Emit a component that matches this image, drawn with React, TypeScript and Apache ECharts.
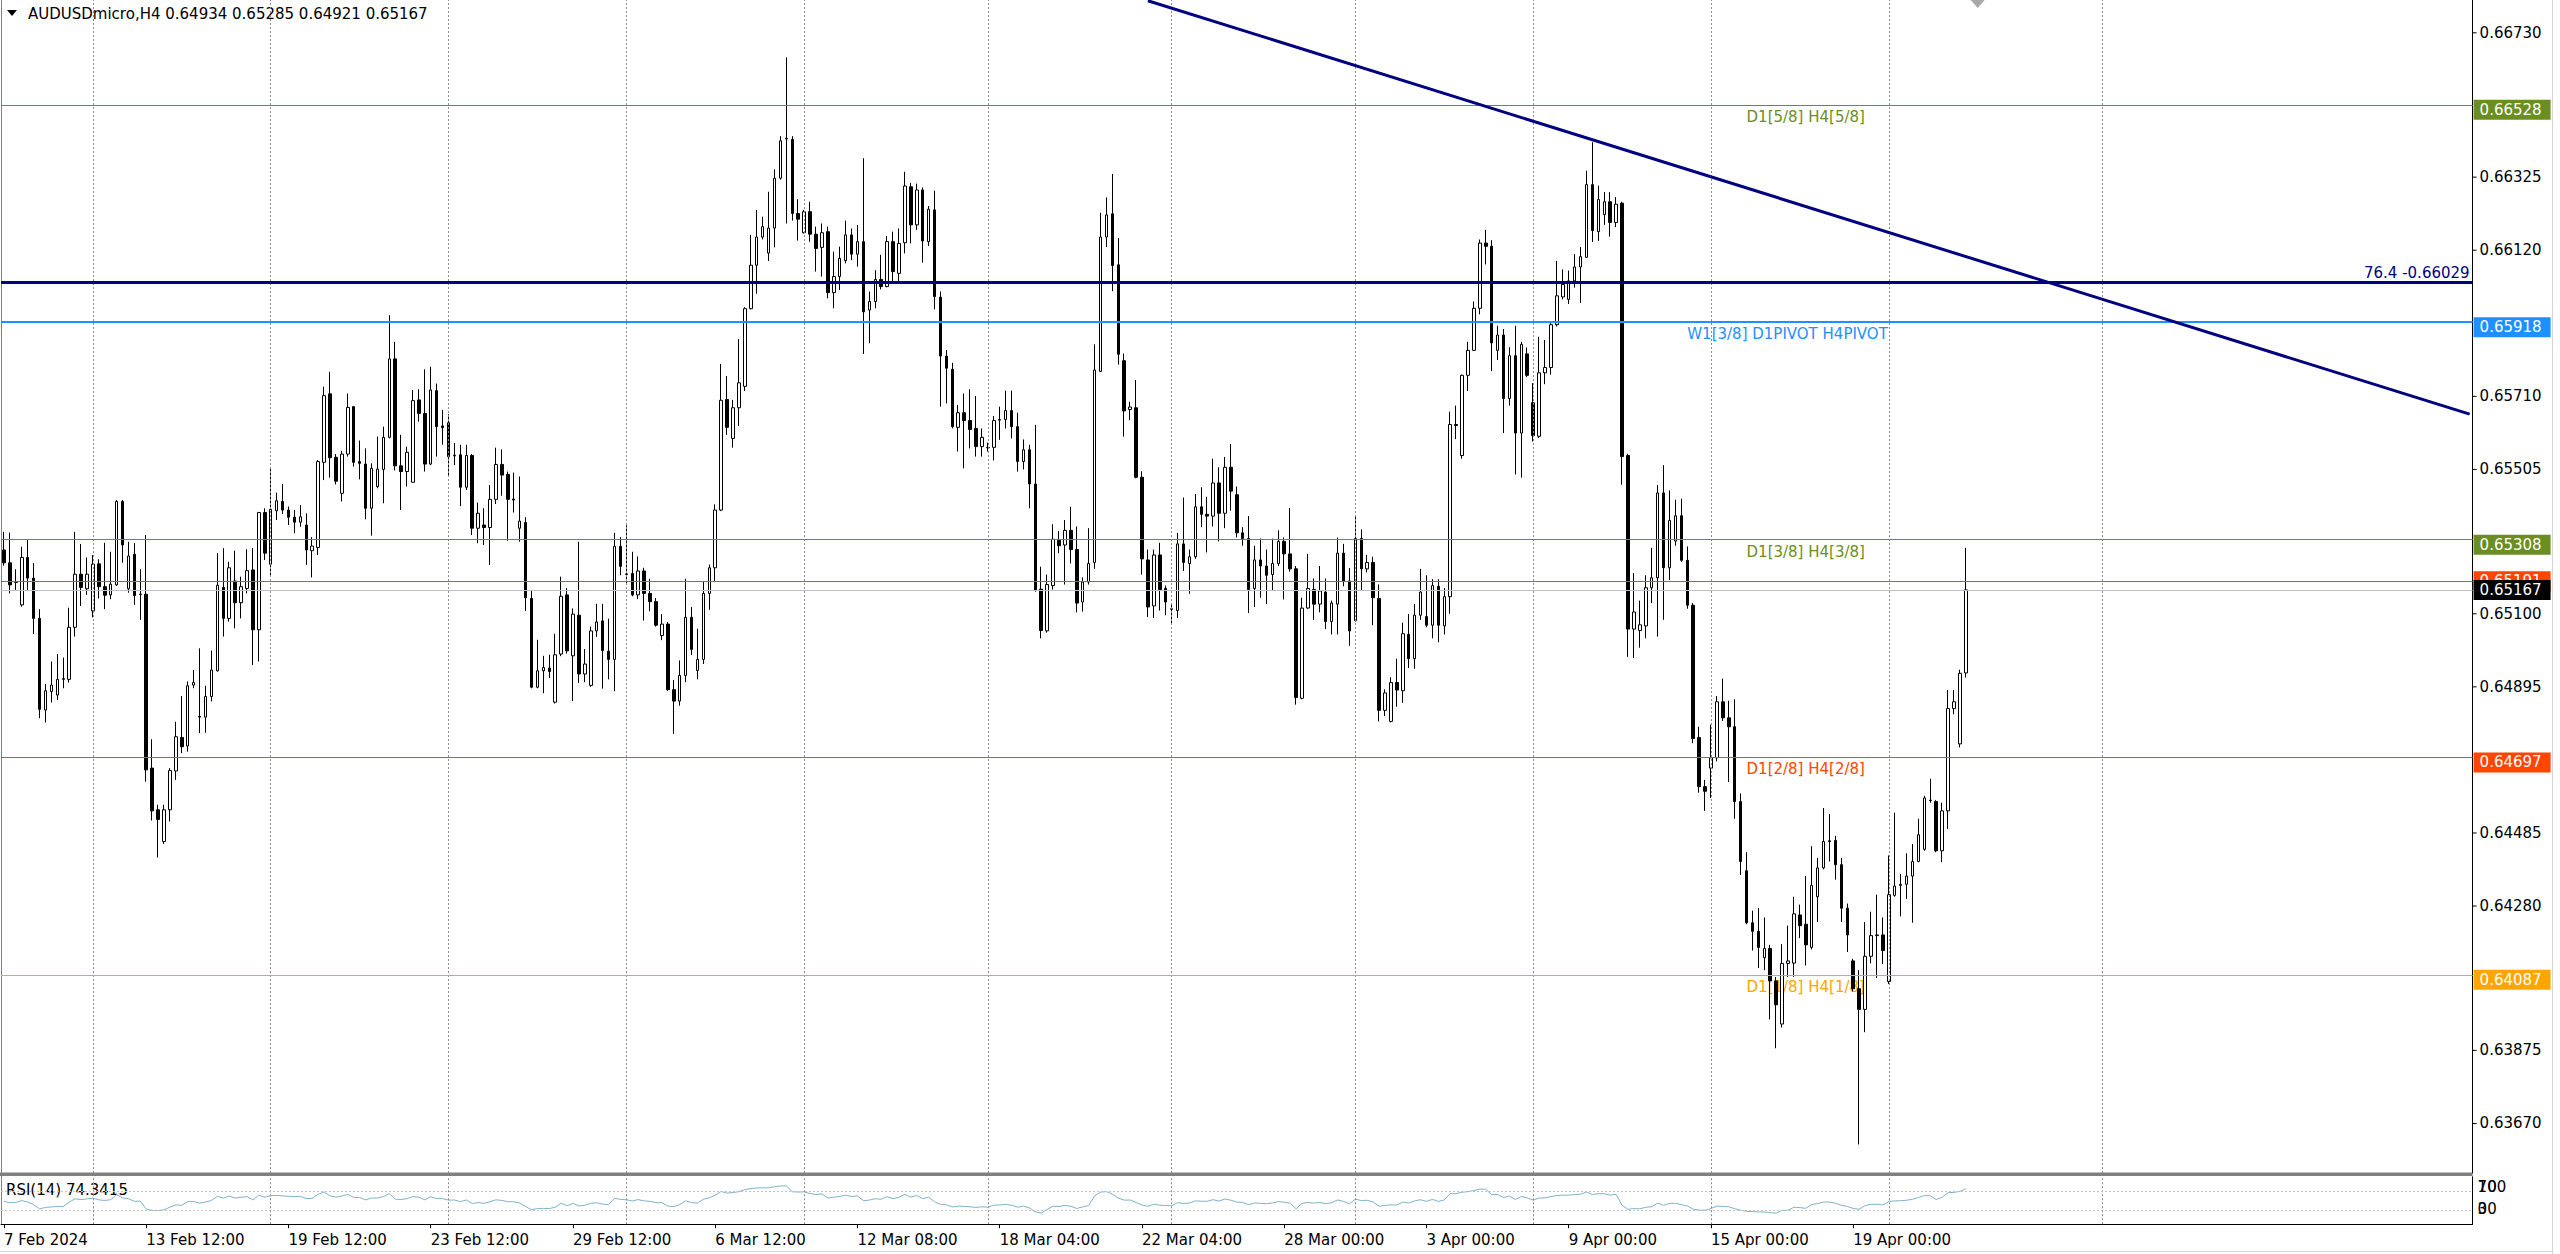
import React, { useEffect, useRef } from "react";
import * as echarts from "echarts";

// ---------- DATA ----------
const opens = [
0.65279,0.65243,0.65188,0.65125,0.65258,0.65200,0.65087,0.64830,0.64882,0.64872,
0.64916,0.64916,0.65062,0.65211,0.65170,0.65108,0.65240,0.65176,0.65153,0.65181,
0.65415,0.65170,0.65267,0.65155,0.65155,0.64667,0.64550,0.64461,0.64550,0.64659,
0.64753,0.64729,0.64900,0.64810,0.64810,0.64868,0.64940,0.65174,0.65087,0.65192,
0.65131,0.65171,0.65223,0.65055,0.65384,0.65239,0.65389,0.65415,0.65391,0.65371,
0.65357,0.65349,0.65277,0.65286,0.65525,0.65717,0.65539,0.65438,0.65548,0.65681,
0.65527,0.65520,0.65396,0.65457,0.65505,0.65595,0.65815,0.65515,0.65499,0.65469,
0.65700,0.65662,0.65520,0.65726,0.65627,0.65636,0.65543,0.65546,0.65455,0.65544,
0.65340,0.65349,0.65342,0.65421,0.65519,0.65491,0.65422,0.65340,0.65356,0.65143,
0.64894,0.64940,0.64948,0.64852,0.64987,0.65153,0.64982,0.65096,0.64931,0.64899,
0.65052,0.65080,0.64995,0.64972,0.65289,0.65210,0.65213,0.65153,0.65220,0.65157,
0.65134,0.65039,0.65071,0.64887,0.64855,0.64927,0.65090,0.64941,0.64972,0.65157,
0.65229,0.65391,0.65701,0.65592,0.65678,0.65738,0.65956,0.66078,0.66157,0.66112,
0.66182,0.66322,0.66432,0.66431,0.66223,0.66169,0.66228,0.66165,0.66128,0.66172,
0.66001,0.66046,0.66091,0.66163,0.66109,0.66144,0.65952,0.65976,0.66038,0.66018,
0.66144,0.66055,0.66141,0.66298,0.66191,0.66289,0.66144,0.66233,0.65988,0.65823,
0.65786,0.65623,0.65664,0.65642,0.65620,0.65569,0.65567,0.65567,0.65643,0.65645,
0.65670,0.65625,0.65527,0.65560,0.65464,0.65169,0.65052,0.65179,0.65306,0.65293,
0.65334,0.65280,0.65133,0.65189,0.65244,0.65780,0.66157,0.66222,0.66079,0.65810,
0.65673,0.65678,0.65483,0.65251,0.65122,0.65265,0.65171,0.65114,0.65109,0.65296,
0.65241,0.65260,0.65400,0.65379,0.65374,0.65467,0.65382,0.65511,0.65434,0.65327,
0.65311,0.65171,0.65251,0.65234,0.65210,0.65241,0.65303,0.65268,0.65226,0.64863,
0.65116,0.65168,0.65127,0.65161,0.65078,0.65127,0.65270,0.65192,0.65081,0.65311,
0.65226,0.65244,0.65143,0.64829,0.64798,0.64907,0.64884,0.65042,0.64974,0.65096,
0.65092,0.65068,0.65177,0.65066,0.65148,0.65631,0.65544,0.65769,0.65839,0.65957,
0.66140,0.66131,0.65839,0.65882,0.65704,0.65824,0.65607,0.65829,0.65692,0.65598,
0.65776,0.65791,0.65911,0.65989,0.65982,0.66034,0.66073,0.66100,0.66304,0.66172,
0.66220,0.66256,0.66198,0.66252,0.65544,0.65057,0.65053,0.65066,0.65173,0.65201,
0.65439,0.65229,0.65304,0.65375,0.65250,0.65124,0.64753,0.64615,0.64667,0.64696,
0.64853,0.64808,0.64783,0.64573,0.64379,0.64233,0.64209,0.64135,0.64161,0.64070,
0.63949,0.64119,0.64120,0.64255,0.64229,0.64164,0.64306,0.64387,0.64463,0.64464,
0.64396,0.64274,0.64126,0.64048,0.63990,0.64139,0.64197,0.64199,0.64068,0.64310,
0.64338,0.64341,0.64364,0.64405,0.64439,0.64577,0.64573,0.64435,0.64547,0.64834,
0.64735,0.64934
];
const highs = [
0.65330,0.65328,0.65225,0.65288,0.65309,0.65242,0.65113,0.64903,0.64966,0.64987,
0.64977,0.65117,0.65330,0.65296,0.65258,0.65265,0.65253,0.65299,0.65274,0.65419,
0.65419,0.65302,0.65298,0.65225,0.65321,0.64748,0.64564,0.64564,0.64667,0.64797,
0.64869,0.64910,0.64942,0.65003,0.64898,0.64997,0.65270,0.65284,0.65246,0.65277,
0.65204,0.65281,0.65284,0.65386,0.65396,0.65511,0.65440,0.65464,0.65401,0.65391,
0.65405,0.65382,0.65315,0.65531,0.65737,0.65779,0.65548,0.65557,0.65718,0.65683,
0.65586,0.65564,0.65522,0.65597,0.65625,0.65938,0.65863,0.65602,0.65569,0.65728,
0.65730,0.65786,0.65793,0.65746,0.65672,0.65660,0.65579,0.65574,0.65574,0.65548,
0.65412,0.65396,0.65461,0.65566,0.65561,0.65499,0.65496,0.65485,0.65371,0.65164,
0.65027,0.64982,0.64985,0.65044,0.65204,0.65172,0.65115,0.65302,0.65001,0.65064,
0.65128,0.65128,0.65086,0.65327,0.65315,0.65348,0.65274,0.65261,0.65229,0.65198,
0.65144,0.65099,0.65077,0.64914,0.64969,0.65198,0.65119,0.65058,0.65190,0.65238,
0.65407,0.65801,0.65767,0.65700,0.65871,0.65960,0.66163,0.66233,0.66214,0.66284,
0.66347,0.66440,0.66661,0.66440,0.66263,0.66233,0.66256,0.66186,0.66195,0.66186,
0.66116,0.66130,0.66203,0.66181,0.66191,0.66378,0.66004,0.66064,0.66107,0.66160,
0.66172,0.66181,0.66340,0.66309,0.66307,0.66296,0.66244,0.66287,0.66004,0.65840,
0.65804,0.65686,0.65718,0.65730,0.65711,0.65620,0.65580,0.65655,0.65681,0.65726,
0.65726,0.65664,0.65589,0.65574,0.65630,0.65232,0.65210,0.65351,0.65332,0.65363,
0.65400,0.65345,0.65202,0.65340,0.65856,0.66225,0.66268,0.66334,0.66154,0.65830,
0.65695,0.65756,0.65500,0.65280,0.65280,0.65299,0.65179,0.65125,0.65327,0.65426,
0.65280,0.65436,0.65455,0.65428,0.65535,0.65511,0.65540,0.65576,0.65457,0.65343,
0.65374,0.65291,0.65311,0.65280,0.65311,0.65334,0.65314,0.65397,0.65234,0.65145,
0.65268,0.65199,0.65234,0.65199,0.65137,0.65314,0.65296,0.65228,0.65374,0.65337,
0.65265,0.65260,0.65182,0.64888,0.64922,0.64974,0.65075,0.65099,0.65127,0.65226,
0.65208,0.65197,0.65197,0.65172,0.65667,0.65684,0.65771,0.65863,0.65976,0.66150,
0.66177,0.66148,0.65908,0.65899,0.65848,0.65908,0.65863,0.65847,0.65747,0.65877,
0.65868,0.65916,0.66090,0.66066,0.66063,0.66109,0.66129,0.66343,0.66423,0.66301,
0.66283,0.66283,0.66269,0.66256,0.65549,0.65214,0.65137,0.65208,0.65285,0.65461,
0.65517,0.65446,0.65420,0.65423,0.65289,0.65130,0.64783,0.64634,0.64789,0.64869,
0.64918,0.64856,0.64860,0.64596,0.64431,0.64267,0.64274,0.64248,0.64171,0.64081,
0.64173,0.64225,0.64306,0.64284,0.64364,0.64448,0.64415,0.64555,0.64538,0.64477,
0.64415,0.64287,0.64132,0.64100,0.64235,0.64264,0.64312,0.64248,0.64422,0.64542,
0.64370,0.64428,0.64454,0.64525,0.64589,0.64637,0.64577,0.64570,0.64886,0.64886,
0.64943,0.65285
];
const lows = [
0.65235,0.65157,0.65167,0.65120,0.65167,0.65043,0.64807,0.64795,0.64851,0.64858,
0.64891,0.64907,0.65036,0.65122,0.65153,0.65090,0.65143,0.65113,0.65141,0.65178,
0.65243,0.65159,0.65125,0.65083,0.64629,0.64520,0.64416,0.64454,0.64517,0.64634,
0.64709,0.64713,0.64891,0.64765,0.64766,0.64854,0.64938,0.65036,0.65078,0.65059,
0.65087,0.65157,0.64956,0.64966,0.65251,0.65206,0.65363,0.65380,0.65349,0.65326,
0.65344,0.65237,0.65202,0.65265,0.65475,0.65482,0.65463,0.65415,0.65541,0.65513,
0.65477,0.65365,0.65319,0.65452,0.65410,0.65592,0.65502,0.65391,0.65457,0.65468,
0.65639,0.65499,0.65517,0.65541,0.65574,0.65485,0.65517,0.65402,0.65447,0.65321,
0.65298,0.65293,0.65237,0.65408,0.65431,0.65305,0.65384,0.65302,0.65108,0.64891,
0.64891,0.64877,0.64920,0.64848,0.64981,0.64988,0.64855,0.64906,0.64908,0.64895,
0.65035,0.64890,0.64916,0.64883,0.65208,0.65185,0.65149,0.65141,0.65081,0.65107,
0.65064,0.65026,0.64884,0.64763,0.64842,0.64908,0.64984,0.64916,0.64959,0.65111,
0.65190,0.65388,0.65602,0.65566,0.65627,0.65725,0.65954,0.65998,0.66150,0.66090,
0.66128,0.66318,0.66195,0.66203,0.66147,0.66167,0.66144,0.66060,0.66046,0.65985,
0.65957,0.66008,0.66083,0.66092,0.66074,0.65829,0.65859,0.65957,0.66010,0.66016,
0.66027,0.66025,0.66111,0.66139,0.66177,0.66085,0.66132,0.65954,0.65681,0.65690,
0.65620,0.65555,0.65508,0.65564,0.65541,0.65541,0.65555,0.65530,0.65588,0.65620,
0.65592,0.65499,0.65505,0.65396,0.65162,0.65031,0.65047,0.65168,0.65270,0.65182,
0.65241,0.65104,0.65106,0.65182,0.65226,0.65778,0.66129,0.66005,0.65799,0.65597,
0.65643,0.65480,0.65210,0.65091,0.65088,0.65109,0.65096,0.65073,0.65088,0.65220,
0.65156,0.65254,0.65343,0.65272,0.65345,0.65303,0.65340,0.65389,0.65314,0.65291,
0.65102,0.65119,0.65145,0.65127,0.65166,0.65234,0.65140,0.65218,0.64845,0.64860,
0.65114,0.65083,0.65104,0.65057,0.65042,0.65042,0.65177,0.65010,0.65078,0.65164,
0.65216,0.65068,0.64798,0.64813,0.64795,0.64839,0.64850,0.64948,0.64946,0.65083,
0.65062,0.65031,0.65020,0.65042,0.65100,0.65590,0.65535,0.65725,0.65837,0.65940,
0.66080,0.65781,0.65812,0.65607,0.65684,0.65491,0.65482,0.65764,0.65583,0.65593,
0.65744,0.65771,0.65906,0.65982,0.65969,0.66015,0.65972,0.66098,0.66143,0.66146,
0.66191,0.66158,0.66185,0.65462,0.64979,0.64976,0.65005,0.65031,0.65130,0.65036,
0.65083,0.65195,0.65291,0.65246,0.65114,0.64737,0.64598,0.64547,0.64583,0.64686,
0.64799,0.64628,0.64525,0.64367,0.64229,0.64155,0.64106,0.64100,0.63962,0.63881,
0.63939,0.64081,0.64081,0.64190,0.64113,0.64158,0.64235,0.64383,0.64405,0.64354,
0.64235,0.64151,0.64040,0.63611,0.63926,0.64119,0.64078,0.64117,0.64061,0.64306,
0.64251,0.64300,0.64233,0.64403,0.64435,0.64570,0.64431,0.64403,0.64496,0.64818,
0.64725,0.64921
];
const closes = [
0.65243,0.65181,0.65190,0.65258,0.65200,0.65087,0.64832,0.64884,0.64900,0.64916,
0.64918,0.65062,0.65211,0.65174,0.65211,0.65239,0.65176,0.65152,0.65183,0.65415,
0.65293,0.65262,0.65151,0.65154,0.64662,0.64547,0.64523,0.64550,0.64660,0.64755,
0.64727,0.64898,0.64907,0.64812,0.64868,0.64942,0.65180,0.65087,0.65229,0.65131,
0.65176,0.65221,0.65055,0.65384,0.65270,0.65393,0.65417,0.65391,0.65371,0.65357,
0.65372,0.65279,0.65290,0.65527,0.65712,0.65538,0.65472,0.65548,0.65679,0.65525,
0.65522,0.65396,0.65508,0.65506,0.65595,0.65815,0.65515,0.65499,0.65553,0.65698,
0.65662,0.65520,0.65728,0.65625,0.65622,0.65541,0.65545,0.65455,0.65544,0.65340,
0.65382,0.65342,0.65421,0.65519,0.65489,0.65421,0.65419,0.65360,0.65145,0.64894,
0.64940,0.64949,0.64938,0.64985,0.65149,0.64996,0.65099,0.64931,0.64959,0.65052,
0.65077,0.64997,0.64972,0.65289,0.65233,0.65212,0.65153,0.65220,0.65157,0.65134,
0.65068,0.65071,0.64887,0.64855,0.64927,0.65090,0.65000,0.64972,0.65157,0.65229,
0.65391,0.65699,0.65623,0.65678,0.65748,0.65956,0.66078,0.66157,0.66186,0.66182,
0.66322,0.66427,0.66434,0.66223,0.66207,0.66228,0.66165,0.66125,0.66169,0.66001,
0.66046,0.66097,0.66163,0.66109,0.66144,0.65947,0.65976,0.66038,0.66018,0.66144,
0.66060,0.66139,0.66300,0.66191,0.66289,0.66146,0.66235,0.65990,0.65823,0.65789,
0.65625,0.65664,0.65642,0.65617,0.65569,0.65595,0.65566,0.65642,0.65645,0.65670,
0.65625,0.65527,0.65560,0.65464,0.65167,0.65053,0.65182,0.65309,0.65291,0.65334,
0.65280,0.65130,0.65189,0.65241,0.65784,0.66157,0.66219,0.66077,0.65828,0.65669,
0.65680,0.65483,0.65254,0.65119,0.65265,0.65168,0.65133,0.65113,0.65296,0.65244,
0.65260,0.65400,0.65379,0.65374,0.65467,0.65382,0.65511,0.65444,0.65327,0.65311,
0.65168,0.65251,0.65234,0.65208,0.65241,0.65303,0.65268,0.65226,0.64865,0.65116,
0.65171,0.65127,0.65164,0.65078,0.65130,0.65270,0.65192,0.65052,0.65311,0.65226,
0.65244,0.65145,0.64829,0.64878,0.64907,0.64886,0.65044,0.64974,0.65096,0.65161,
0.65068,0.65179,0.65068,0.65148,0.65631,0.65628,0.65769,0.65839,0.65957,0.66140,
0.66131,0.65860,0.65882,0.65704,0.65824,0.65607,0.65856,0.65769,0.65600,0.65776,
0.65791,0.65911,0.65992,0.66024,0.66034,0.66073,0.66102,0.66304,0.66175,0.66262,
0.66256,0.66198,0.66249,0.65541,0.65057,0.65105,0.65069,0.65173,0.65201,0.65439,
0.65229,0.65362,0.65375,0.65250,0.65124,0.64750,0.64615,0.64602,0.64696,0.64853,
0.64808,0.64783,0.64573,0.64405,0.64233,0.64209,0.64164,0.64161,0.64070,0.64003,
0.64119,0.64126,0.64258,0.64225,0.64171,0.64338,0.64387,0.64461,0.64461,0.64396,
0.64274,0.64199,0.64048,0.63990,0.64139,0.64197,0.64199,0.64155,0.64312,0.64336,
0.64341,0.64364,0.64405,0.64480,0.64583,0.64576,0.64435,0.64547,0.64834,0.64853,
0.64933,0.65167
];

const timeLabels = [
  "7 Feb 2024", "13 Feb 12:00", "19 Feb 12:00", "23 Feb 12:00", "29 Feb 12:00",
  "6 Mar 12:00", "12 Mar 08:00", "18 Mar 04:00", "22 Mar 04:00", "28 Mar 00:00",
  "3 Apr 00:00", "9 Apr 00:00", "15 Apr 00:00", "19 Apr 00:00",
];
const labelEvery = 24;
const slotCount = 417; // bars + chart-shift space
const gridLineBars = [15, 45, 75, 105, 135, 166, 197, 228, 258, 288, 318, 354];

const priceTicks = [0.6673, 0.66325, 0.6612, 0.6571, 0.65505, 0.651, 0.64895, 0.64485, 0.6428, 0.63875, 0.6367];
const levelPrices = [0.66528, 0.65918, 0.65308, 0.65191, 0.64697, 0.64087];
const levelNames = ["D1[5/8] H4[5/8]", "W1[3/8] D1PIVOT H4PIVOT", "D1[3/8] H4[3/8]", "", "D1[2/8] H4[2/8]", "D1[1/8] H4[1/8]"];
const fiboPrice = 0.66029;
const fiboName = "76.4 -0.66029";
const bidPrice = 0.65167;
const trendAnchors = [[193, 0.6682], [416, 0.6566]];
const rsiLevels = [70, 30];
const rsiScaleTop = ["100", "70"];
const rsiScaleBottom = ["30", "0"];
const titleText = "AUDUSDmicro,H4 0.64934 0.65285 0.64921 0.65167";
const rsiTitle = "RSI(14) 74.3415";
const priceMin = 0.63531;
const priceMax = 0.66822;

function rsiOf(c: number[], period: number): number[] {
  let g = 0, l = 0;
  for (let i = 1; i <= period; i++) {
    const d = c[i] - c[i - 1];
    if (d > 0) g += d; else l -= d;
  }
  let ag = g / period, al = l / period;
  const val = (a: number, b: number) => (b === 0 ? 100 : 100 - 100 / (1 + a / b));
  const out: number[] = [+val(ag, al).toFixed(3)];
  for (let i = 1; i < c.length; i++) {
    const d = c[i] - c[i - 1];
    ag = (ag * (period - 1) + Math.max(d, 0)) / period;
    al = (al * (period - 1) + Math.max(-d, 0)) / period;
    out.push(+val(ag, al).toFixed(3));
  }
  return out;
}

export default function App() {
  const ref = useRef<HTMLDivElement>(null);
  useEffect(() => {
    const el = ref.current;
    if (!el) return;
    const chart = echarts.init(el, null, { renderer: "svg" });
    const BAR = 5.927;
    const GL = 4 - BAR / 2;
    const GW = slotCount * BAR;
    const XR = GL + GW;
    const F = "DejaVu Sans";
    const cats = Array.from({ length: slotCount }, (_, i) => String(i));
    const candles = opens.map((o, i) => [o, closes[i], lows[i], highs[i]]);
    const rsi = rsiOf(closes, 14);

    const levelColors = ["#6b8e23", "#1e90ff", "#6b8e23", "#ff4500", "#ff4500", "#ffa500"];
    const levelWidths = [1, 2, 1, 1, 1, 1];
    const levelLabelBar = [294, 284, 294, 294, 294, 294];
    const isLabel = (idx: number) => idx % labelEvery === 0 && idx / labelEvery < timeLabels.length;
    const gridStyle = { color: "#8a8a8a", width: 1, type: [2, 2] as any };
    const ml = { silent: true, symbol: ["none", "none"], label: { show: false }, animation: false, precision: 10 };

    const option: any = {
      animation: false,
      backgroundColor: "#ffffff",
      grid: [
        { left: GL, top: 0, width: GW, height: 1173 },
        { left: GL, top: 1176.75, width: GW, height: 47.5 },
      ],
      xAxis: [
        {
          type: "category", gridIndex: 0, data: cats, boundaryGap: true,
          axisLine: { show: false }, axisTick: { show: false }, axisLabel: { show: false }, splitLine: { show: false },
        },
        {
          type: "category", gridIndex: 1, data: cats, boundaryGap: true,
          axisLine: { show: true, lineStyle: { color: "#000", width: 1 } },
          axisTick: { show: true, interval: (i: number) => isLabel(i), alignWithLabel: true, length: 4, lineStyle: { color: "#000" } },
          axisLabel: {
            show: true, interval: (i: number) => isLabel(i),
            formatter: (_v: string, i: number) => timeLabels[i / labelEvery] || "",
            align: "left", margin: 8, color: "#000", fontSize: 15, fontFamily: F,
          },
          splitLine: { show: false },
        },
      ],
      yAxis: [
        {
          type: "value", gridIndex: 0, position: "right", min: priceMin, max: priceMax,
          axisLine: { show: true, lineStyle: { color: "#000", width: 1 } },
          axisTick: { show: false }, axisLabel: { show: false }, splitLine: { show: false },
        },
        {
          type: "value", gridIndex: 1, position: "right", min: 0, max: 100,
          axisLine: { show: true, lineStyle: { color: "#000", width: 1 } },
          axisTick: { show: false }, axisLabel: { show: false }, splitLine: { show: false },
        },
      ],
      series: [
        {
          type: "line", xAxisIndex: 0, yAxisIndex: 0, data: [], z: 1, silent: true,
          markLine: {
            ...ml,
            data: [
              ...gridLineBars.map((b) => ({ xAxis: b, lineStyle: gridStyle })),
              ...levelPrices.map((p, k) => ({ yAxis: p, lineStyle: { color: levelColors[k], width: levelWidths[k], type: "solid" } })),
              { yAxis: bidPrice, lineStyle: { color: "#c0c0c0", width: 1, type: "solid" } },
            ],
          },
        },
        {
          type: "candlestick", xAxisIndex: 0, yAxisIndex: 0, data: candles, z: 3, barWidth: 3,
          itemStyle: { color: "#ffffff", color0: "#000000", borderColor: "#000000", borderColor0: "#000000", borderColorDoji: "#000000", borderWidth: 1 },
        },
        {
          type: "line", xAxisIndex: 0, yAxisIndex: 0, data: [], z: 4, silent: true,
          markLine: {
            ...ml,
            data: [
              { yAxis: fiboPrice, lineStyle: { color: "#000080", width: 3, type: "solid" } },
              [
                { coord: [trendAnchors[0][0], trendAnchors[0][1]], lineStyle: { color: "#000080", width: 3, type: "solid" } },
                { coord: [trendAnchors[1][0], trendAnchors[1][1]] },
              ],
            ],
          },
        },
        {
          type: "line", xAxisIndex: 1, yAxisIndex: 1, data: rsi, showSymbol: false, symbol: "none", z: 3,
          lineStyle: { color: "#7fb2c8", width: 1 },
          markLine: {
            ...ml,
            data: [
              ...gridLineBars.map((b) => ({ xAxis: b, lineStyle: gridStyle })),
              ...rsiLevels.map((v) => ({ yAxis: v, lineStyle: { color: "#c4c4c4", width: 1, type: [2, 2] } })),
            ],
          },
        },
      ],
    };
    chart.setOption(option);

    const xPix = (i: number) => chart.convertToPixel({ xAxisIndex: 0 }, i) as number;
    const yPix = (p: number) => chart.convertToPixel({ yAxisIndex: 0 }, p) as number;
    const rPix = (v: number) => chart.convertToPixel({ yAxisIndex: 1 }, v) as number;

    const txt = (x: number, y: number, text: string, fill: string, align = "left", extra: any = {}) => ({
      type: "text", x, y, silent: true,
      style: { text, fill, fontSize: 15, fontFamily: F, align, verticalAlign: "middle", ...extra },
    });
    const els: any[] = [];
    // frame
    els.push({ type: "rect", shape: { x: 0, y: 1172.5, width: XR, height: 3.5 }, style: { fill: "#808080" } });
    els.push({ type: "line", shape: { x1: 1.5, y1: 0, x2: 1.5, y2: 1225 }, style: { stroke: "#808080", lineWidth: 1 } });
    els.push({ type: "line", shape: { x1: 2552.5, y1: 0, x2: 2552.5, y2: 1254 }, style: { stroke: "#d4d4d4", lineWidth: 1 } });
    els.push({ type: "line", shape: { x1: 0, y1: 1251.5, x2: 2553, y2: 1251.5 }, style: { stroke: "#d4d4d4", lineWidth: 1 } });
    // level labels
    levelPrices.forEach((p, k) => {
      if (!levelNames[k]) return;
      els.push(txt(xPix(levelLabelBar[k]), yPix(p) + 12, levelNames[k], levelColors[k]));
    });
    els.push(txt(XR - 3, yPix(fiboPrice) - 10, fiboName, "#000080", "right"));
    // price scale
    priceTicks.forEach((p) => {
      const y = yPix(p);
      els.push({ type: "line", shape: { x1: XR, y1: y, x2: XR + 4, y2: y }, style: { stroke: "#000", lineWidth: 1 } });
      els.push(txt(XR + 7, y, p.toFixed(5), "#000"));
    });
    levelPrices.forEach((p, k) => {
      const y = yPix(p);
      const top = k === 3 ? y - 10 : y - 5;
      els.push({ type: "rect", shape: { x: XR + 1, y: top, width: 77, height: 20 }, style: { fill: levelColors[k] } });
      els.push(txt(XR + 7, top + 10, p.toFixed(5), "#ffffff"));
    });
    {
      const y = yPix(bidPrice);
      els.push({ type: "rect", shape: { x: XR + 1, y: y - 10, width: 77, height: 20 }, style: { fill: "#000000" } });
      els.push(txt(XR + 7, y, bidPrice.toFixed(5), "#ffffff"));
    }
    // title
    els.push({ type: "polygon", shape: { points: [[7, 10], [17, 10], [12, 16]] }, style: { fill: "#000" } });
    els.push(txt(28, 14, titleText, "#000"));
    // chart shift marker
    {
      const x = xPix(333);
      els.push({ type: "polygon", shape: { points: [[x - 7, 0], [x + 7, 0], [x, 8]] }, style: { fill: "#a8a8a8" } });
    }
    // RSI texts
    els.push(txt(6, rPix(70) - 1, rsiTitle, "#000"));
    rsiScaleTop.forEach((s) => els.push(txt(XR + 5, rPix(70) - 4, s, "#000")));
    rsiScaleBottom.forEach((s) => els.push(txt(XR + 5, rPix(30) - 1, s, "#000")));

    chart.setOption({ graphic: { elements: els } });
    return () => chart.dispose();
  }, []);
  return (
    <div
      ref={ref}
      style={{ position: "fixed", left: 0, top: 0, width: 2560, height: 1254, background: "#ffffff" }}
    />
  );
}
